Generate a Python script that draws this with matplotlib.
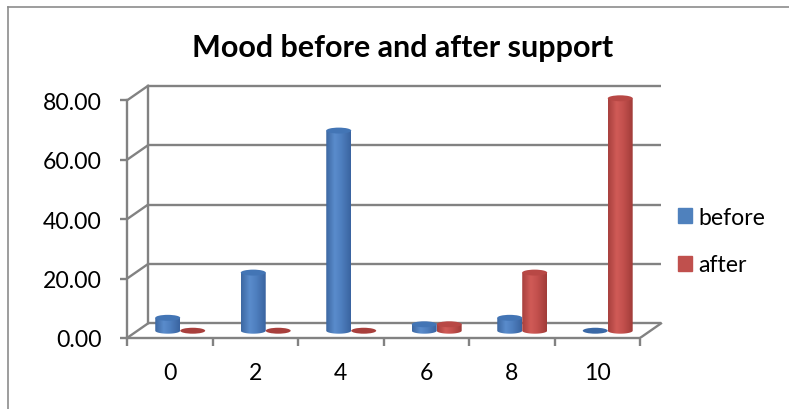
import matplotlib
matplotlib.use('Agg')
import matplotlib.pyplot as plt
from matplotlib.patches import Ellipse, PathPatch, Patch
from matplotlib.path import Path
from matplotlib.colors import LinearSegmentedColormap
from matplotlib.lines import Line2D
import numpy as np

plt.rcParams['font.family'] = ['Lato', 'DejaVu Sans']

# mood score categories and share of answers (%)
categories = ['0', '2', '4', '6', '8', '10']
before = [4.35, 19.57, 67.39, 2.17, 4.35, 0.0]
after = [0.0, 0.0, 0.0, 2.17, 19.57, 78.26]
yticks = [0, 20, 40, 60, 80]

W, H, DPI = 789, 410, 100
fig = plt.figure(figsize=(W / DPI, H / DPI), dpi=DPI)

# pixel frame of the plot area (front wall + depth offset)
left_px, right_px, base_px, top_px = 127, 663, 339, 75
ax = fig.add_axes([left_px / W, 1 - base_px / H,
                   (right_px - left_px) / W, (base_px - top_px) / H])

sx = 85.5   # px per category
sy = 2.97   # px per unit
xmax = -0.5 + (right_px - left_px) / sx
ymax = (base_px - top_px) / sy

DX, DY = 0.245, 4.9     # depth offset of the back wall
grey = '#828282'
lw = 1.7

# walls and gridlines
for v in yticks:
    ax.plot([-0.5 + DX, 5.5 + DX], [v + DY, v + DY], color=grey, lw=lw, zorder=1,
            solid_capstyle='butt')
    ax.plot([-0.5, -0.5 + DX], [v, v + DY], color=grey, lw=lw, zorder=1)
ax.plot([-0.5 + DX, -0.5 + DX], [DY, 80 + DY], color=grey, lw=lw, zorder=1)
ax.plot([5.5, 5.5 + DX], [0, DY], color=grey, lw=lw, zorder=1)

blue_cm = LinearSegmentedColormap.from_list(
    'b', [(0, '#3d68a2'), (0.35, '#5a8ccc'), (0.6, '#4f80c0'), (1, '#3a64a0')])
red_cm = LinearSegmentedColormap.from_list(
    'r', [(0, '#a8413e'), (0.35, '#d05b57'), (0.6, '#c4514e'), (1, '#a13c39')])
grad = np.linspace(0, 1, 64)[np.newaxis, :]

bw = 0.292       # cylinder diameter
eh = 2.0         # ellipse height in value units
base = DY / 2


def cylinder(cx, v, cmap, top_col, zero_col, z):
    if v <= 0:
        ax.add_patch(Ellipse((cx, base), bw, eh, color=zero_col, zorder=z, lw=0))
        return
    x0, x1 = cx - bw / 2, cx + bw / 2
    top = base + v
    t = np.linspace(np.pi, 2 * np.pi, 40)
    verts = [(x0, top), (x0, base)]
    verts += list(zip(cx + bw / 2 * np.cos(t), base + eh / 2 * np.sin(t)))
    verts += [(x1, base), (x1, top), (x0, top)]
    codes = [Path.MOVETO] + [Path.LINETO] * (len(verts) - 2) + [Path.CLOSEPOLY]
    body = PathPatch(Path(verts, codes), facecolor='none', edgecolor='none')
    ax.add_patch(body)
    im = ax.imshow(grad, extent=(x0, x1, base - eh / 2, top), cmap=cmap,
                   aspect='auto', zorder=z, interpolation='bilinear')
    im.set_clip_path(body)
    ax.add_patch(Ellipse((cx, top), bw, eh, color=top_col, zorder=z + 0.1, lw=0))


for i in range(len(categories)):
    cx_b = i + DX / 2 - bw / 2
    cx_r = i + DX / 2 + bw / 2
    cylinder(cx_b, before[i], blue_cm, '#4375b5', '#3a68a6', 3 + i)
    cylinder(cx_r, after[i], red_cm, '#b84845', '#a83f3c', 3.5 + i)

ax.set_xlim(-0.5, xmax)
ax.set_ylim(0, ymax)
ax.set_facecolor('none')

for s in ['top', 'right']:
    ax.spines[s].set_visible(False)
ax.spines['left'].set_bounds(0, 80)
ax.spines['bottom'].set_bounds(-0.5, 5.5)
for s in ['left', 'bottom']:
    ax.spines[s].set_color(grey)
    ax.spines[s].set_linewidth(lw)

ax.set_yticks(yticks)
ax.set_yticklabels([f'{v:.2f}' for v in yticks])
ax.set_xticks(np.arange(-0.5, 6, 1))
ax.set_xticklabels([])
ax.set_xticks(range(len(categories)), minor=True)
ax.set_xticklabels(categories, minor=True)
ax.tick_params(axis='y', length=5, width=lw, color=grey, pad=13, labelsize=16.6)
ax.tick_params(axis='x', which='major', length=5.8, width=lw, color=grey)
ax.tick_params(axis='x', which='minor', length=0, pad=17, labelsize=16.6)

fig.text(402.5 / W, 1 - 57 / H, 'Mood before and after support',
         ha='center', va='baseline', fontsize=22, fontweight='bold')

handles = [Patch(color='#4f81bd', label='before'), Patch(color='#c0504d', label='after')]
fig.legend(handles=handles, loc='center left', bbox_to_anchor=(666 / W, 1 - 242 / H),
           frameon=False, fontsize=16.6, handlelength=0.62, handleheight=0.62,
           handletextpad=0.3, labelspacing=1.15, borderpad=0)

# chart border
fig.add_artist(Line2D([7.5 / W, 7.5 / W], [0, 1 - 8 / H], color='#8c8c8c', lw=1.2))
fig.add_artist(Line2D([7.5 / W, 1], [1 - 8 / H, 1 - 8 / H], color='#8c8c8c', lw=1.2))

fig.savefig('out.png', dpi=DPI)
